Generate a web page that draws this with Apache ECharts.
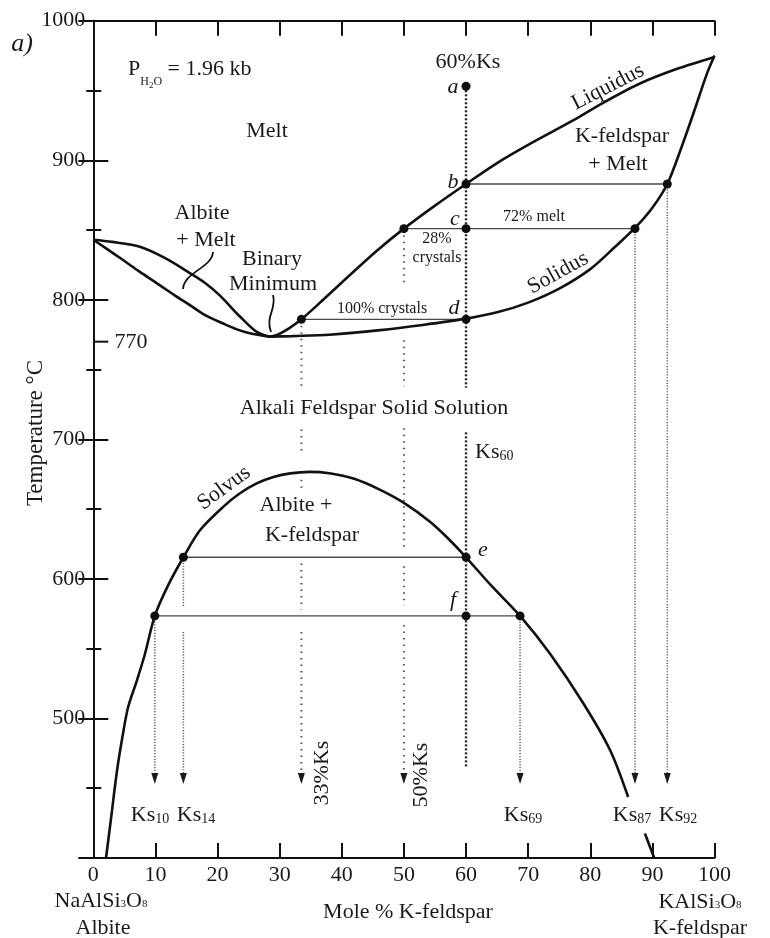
<!DOCTYPE html>
<html>
<head>
<meta charset="utf-8">
<script src="https://cdn.jsdelivr.net/npm/echarts@6/dist/echarts.min.js"></script>
<style>html,body{margin:0;padding:0;background:#fff}#c{width:770px;height:938px}</style>
</head>
<body>
<div id="c"></div>
<script>
// ---- data (mole % K-feldspar, temperature °C) ----
const xTickValues = [0, 10, 20, 30, 40, 50, 60, 70, 80, 90, 100];
const yTickValues = [500, 600, 700, 800, 900, 1000];
const liquidusAlbite = [[0,843],[3,841.5],[7.5,838],[11.5,830],[15.6,819],[18,812],[20.4,803],[23.6,788],[26.3,777],[28.4,773.5]];
const solidusAlbite = [[0,843],[2,837],[4.8,828.5],[7.5,820],[10.2,812],[13,803.5],[15.6,796],[18,789],[20.9,783],[23,779],[25.2,776],[28.4,773.5]];
const liquidusKfs = [[28.4,773.5],[29.6,774.8],[31.5,779.5],[33.5,786],[37,800],[41,816.5],[45.6,835],[50,851],[55,867.5],[60,883],[65,898],[70,911],[77.3,928.7],[82,941],[88,955],[94,965.5],[100,974]];
const solidusKfs = [[28.4,773.5],[32,774],[38,775],[46.2,778.3],[53,782],[60,786.5],[65,791],[70,798],[75,808],[80,822],[84,838],[87.2,851.5],[90,866],[92.4,883],[94.5,907],[96.6,933.5],[98.7,961],[100,975]];
const solvusMain = [[2.05,400],[2.9,430],[3.8,462],[4.7,487],[5.6,508],[7,527],[8.3,546],[9.9,573.5],[12,595],[14.5,615.5],[17.2,635],[20.9,651.6],[23.5,661],[26.3,668.4],[29,673],[31.7,675.6],[34.8,676.7],[38,675.7],[42,671.7],[46.1,664],[50,654.5],[54.2,641],[57,629.5],[60,615.5],[64,595.5],[68.7,573.5],[73.5,546.5],[78.9,510.7],[83.2,477.2],[86.1,443.7]];
const solvusTail = [[88.8,417.5],[90.3,400]];
const tieLines = [
  [[60,883],[92.4,883]],
  [[50,851],[87.2,851]],
  [[33.5,786],[60,786]],
  [[14.5,615.5],[60,615.5]],
  [[9.9,573.5],[68.7,573.5]]
];
const keyPoints = [[60,953],[60,883],[92.4,883],[50,851],[60,851],[87.2,851],[33.5,786],[60,786],[14.5,615.5],[60,615.5],[9.9,573.5],[60,573.5],[68.7,573.5]];
const path60 = [[[60,953],[60,737]],[[60,705],[60,465]]];
const path33 = [[[33.5,786],[33.5,737]],[[33.5,707],[33.5,690]],[[33.5,671],[33.5,663]],[[33.5,611],[33.5,578]],[[33.5,562],[33.5,460]]];
const path50 = [[[50,851],[50,810]],[[50,771],[50,738]],[[50,708],[50,622]],[[50,609],[50,581]],[[50,567],[50,460]]];
const pathArrows = [[[9.9,573.5],[9.9,460]],[[14.5,615.5],[14.5,580]],[[14.5,562],[14.5,460]],[[68.7,573.5],[68.7,460]],[[87.2,851],[87.2,460]],[[92.4,883],[92.4,460]]];
const arrowHeads = [[9.9,457],[14.5,457],[33.5,457],[50,457],[68.7,457],[87.2,457],[92.4,457]];
const extraTick = 770;

// ---- styles ----
const F = 'Liberation Serif';
const C = '#1a1a1a';
const series = [];
function lineSeries(data, style, smooth) {
  series.push({type:'line', data:data, smooth:smooth||false, symbol:'none', silent:true,
    lineStyle:style, z:style.z||2, animation:false});
}
const curveStyle = {color:'#111', width:2.6, z:3};
[liquidusAlbite, solidusAlbite, liquidusKfs, solidusKfs, solvusMain].forEach(d => lineSeries(d, curveStyle, 0.3));
lineSeries(solvusTail, curveStyle, false);
tieLines.forEach(d => lineSeries(d, {color:'#4a4a4a', width:1.4}));
path60.forEach(d => lineSeries(d, {color:'#222', width:2.4, type:[2,2]}));
path33.concat(path50).forEach(d => lineSeries(d, {color:'#555', width:2, type:[1.5,5]}));
pathArrows.forEach(d => lineSeries(d, {color:'#666', width:1.6, type:[1.2,1.6]}));
series.push({type:'scatter', data:arrowHeads, symbol:'triangle', symbolRotate:180, symbolSize:[7,11],
  itemStyle:{color:'#1a1a1a', opacity:1}, silent:true, z:4, animation:false});
series.push({type:'scatter', data:keyPoints, symbol:'circle', symbolSize:9,
  itemStyle:{color:'#0d0d0d', opacity:1}, silent:true, z:5, animation:false});

const axisCommon = {
  axisLine:{show:true, lineStyle:{color:'#111', width:2}},
  axisTick:{show:true, inside:true, length:15, lineStyle:{color:'#111', width:2}},
  splitLine:{show:false}
};
const option = {
  animation:false,
  backgroundColor:'#fff',
  grid:{left:93.3, right:55.5, top:20.7, bottom:80, containLabel:false},
  xAxis:[
    Object.assign({type:'value', position:'bottom', min:0, max:100, interval:10,
      axisLabel:{fontFamily:F, fontSize:22, color:C, margin:6,
        formatter:v => xTickValues.includes(v) ? String(v) : ''}}, axisCommon),
    Object.assign({type:'value', position:'top', min:0, max:100, interval:10,
      axisLabel:{show:false}}, axisCommon)
  ],
  yAxis:[
    Object.assign({type:'value', position:'left', min:400, max:1000, interval:100,
      minorTick:{show:true, splitNumber:2, length:8, lineStyle:{color:'#111', width:2}},
      axisLabel:{fontFamily:F, fontSize:22, color:C, margin:8,
        formatter:v => yTickValues.includes(v) ? String(v) : ''}}, axisCommon),
    Object.assign({type:'value', position:'right', min:400, max:1000, interval:100,
      minorTick:{show:true, splitNumber:2, length:7, lineStyle:{color:'#111', width:2}},
      axisLabel:{show:false}}, axisCommon)
  ],
  series:series
};

const chart = echarts.init(document.getElementById('c'), null, {renderer:'canvas'});
chart.setOption(option);

// ---- annotations ----
function txt(text, x, y, o) {
  o = o || {};
  const size = o.size || 22;
  const style = {text:text, x:0, y:0, fill:C,
    font:(o.italic ? 'italic ' : '') + size + 'px "' + F + '"',
    align:o.align || 'center', verticalAlign:'middle',
    textAlign:o.align || 'center', textVerticalAlign:'middle'};
  if (o.rich) style.rich = o.rich;
  return {type:'text', x:x, y:y, rotation:(o.rot || 0) * Math.PI / 180, style:style, z:10, silent:true};
}
function subRich(main, sub, shift) {
  return {
    m:{fontSize:main, fontFamily:F, fill:C},
    s:{fontSize:sub, fontFamily:F, fill:C, padding:[shift*2,0,0,0]},
    h:{fontSize:12, fontFamily:F, fill:C, padding:[24,0,0,0]},
    t:{fontSize:9, fontFamily:F, fill:C, padding:[32,0,0,0]}
  };
}
const ks = (n, x) => txt('{m|Ks}{s|' + n + '}', x, 815, {rich:subRich(22, 14, 4.5)});
const p770 = chart.convertToPixel({gridIndex:0}, [0, extraTick]);
const graphics = [
  txt('a)', 22, 44, {italic:true, size:26}),
  txt('{m|P}{h|H}{t|2}{h|O}{m| = 1.96 kb}', 128, 69.5, {align:'left', rich:subRich(22, 12, 6)}),
  txt('Melt', 267, 131),
  txt('60%Ks', 468, 62),
  txt('a', 453, 87, {italic:true}),
  txt('b', 453, 182, {italic:true}),
  txt('c', 455, 219, {italic:true}),
  txt('d', 454, 308, {italic:true}),
  txt('e', 483, 550, {italic:true}),
  txt('f', 453, 600, {italic:true}),
  txt('Liquidus', 608, 87, {rot:27}),
  txt('K-feldspar', 622, 136),
  txt('+ Melt', 618, 164),
  txt('72% melt', 534, 217, {size:16}),
  txt('28%', 437, 239, {size:16}),
  txt('crystals', 437, 258, {size:16}),
  txt('Solidus', 558, 273, {rot:29}),
  txt('Albite', 202, 213),
  txt('+ Melt', 206, 240),
  txt('Binary', 272, 259),
  txt('Minimum', 273, 284),
  txt('100% crystals', 382, 309, {size:16}),
  txt('770', 131, 342),
  txt('Alkali Feldspar Solid Solution', 374, 408),
  txt('{m|Ks}{s|60}', 475, 452, {align:'left', rich:subRich(22, 14, 4.5)}),
  txt('Solvus', 224, 488, {rot:36}),
  txt('Albite +', 296, 505),
  txt('K-feldspar', 312, 535),
  ks('10', 150), ks('14', 196), ks('69', 523), ks('87', 632), ks('92', 678),
  txt('33%Ks', 322, 773, {rot:90}),
  txt('50%Ks', 421, 775, {rot:90}),
  txt('Mole % K-feldspar', 408, 912),
  txt('Temperature °C', 36, 433, {rot:90, size:23}),
  txt('{m|NaAlSi}{s|3}{m|O}{s|8}', 101, 901, {rich:subRich(22, 11, 3)}),
  txt('Albite', 103, 928),
  txt('{m|KAlSi}{s|3}{m|O}{s|8}', 700, 902, {rich:subRich(22, 11, 3)}),
  txt('K-feldspar', 700, 928),
  {type:'line', shape:{x1:p770[0], y1:p770[1], x2:p770[0] + 15, y2:p770[1]},
    style:{stroke:'#111', lineWidth:2}, z:10, silent:true},
  {type:'bezierCurve', shape:{x1:213, y1:252, cpx1:212, cpy1:268, cpx2:184, cpy2:272, x2:183, y2:289},
    style:{stroke:'#111', lineWidth:1.8, fill:null}, z:10, silent:true},
  {type:'bezierCurve', shape:{x1:273, y1:295, cpx1:277, cpy1:309, cpx2:265, cpy2:316, x2:271, y2:332},
    style:{stroke:'#111', lineWidth:1.8, fill:null}, z:10, silent:true}
];
chart.setOption({graphic:{elements:graphics}});
</script>
</body>
</html>
